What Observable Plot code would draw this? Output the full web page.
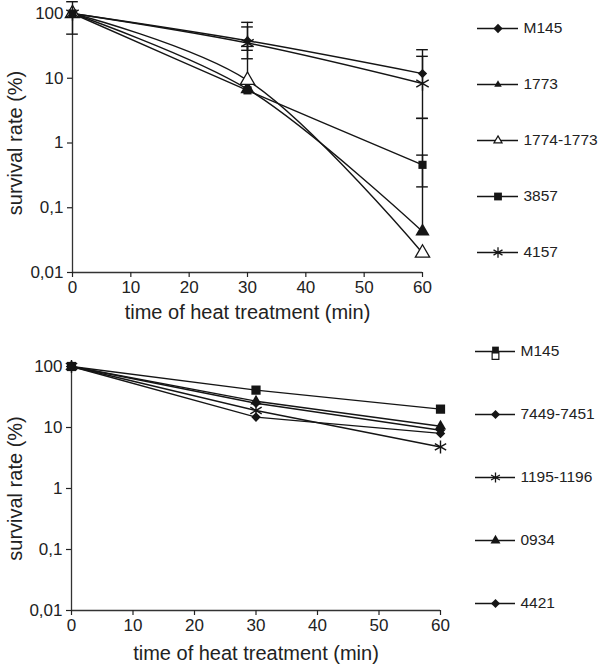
<!DOCTYPE html>
<html>
<head>
<meta charset="utf-8">
<script src="https://cdn.jsdelivr.net/npm/d3@7"></script>
<script src="https://cdn.jsdelivr.net/npm/@observablehq/plot@0.6"></script>
<style>
  body { margin: 0; background: #fff; }
  #wrap { position: relative; width: 600px; height: 665px; background: #fff; font-family: "Liberation Sans", Arial, sans-serif; }
  .pane { position: absolute; }
</style>
</head>
<body>
<div id="wrap">
  <div id="top" class="pane" style="left:0;top:0"></div>
  <div id="topLeg" class="pane" style="left:460px;top:0"></div>
  <div id="bot" class="pane" style="left:0;top:330px"></div>
  <div id="botLeg" class="pane" style="left:460px;top:330px"></div>
</div>
<script>
// ---------- data: top panel ----------
const topTimes = [0, 30, 60];
const topNames = ["M145", "1773", "1774-1773", "3857", "4157"];
const topM145 = [100, 38, 11.8];
const top1773 = [100, 6.8, 0.043];
const top1774 = [100, 9.3, 0.020];
const top3857 = [100, 6.5, 0.46];
const top4157 = [100, 35, 8.3];
const topValues = [topM145, top1773, top1774, top3857, top4157];

// error bars (top panel)
const topErrSeries = ["M145", "M145", "4157", "1774-1773", "M145", "4157", "3857", "1773"];
const topErrTime   = [0, 30, 30, 30, 60, 60, 60, 60];
const topErrLow    = [48, 27, 20, null, null, 2.4, 0.21, null];
const topErrHigh   = [152, 62, 73, 31, 27.6, 21.8, 2.4, 0.65];

// ---------- data: bottom panel ----------
const botTimes = [0, 30, 60];
const botNames = ["M145", "7449-7451", "1195-1196", "0934", "4421"];
const botM145 = [100, 41, 20];
const bot7449 = [100, 25, 9.0];
const bot1195 = [100, 19, 4.8];
const bot0934 = [100, 27, 10.5];
const bot4421 = [100, 14.8, 8.0];
const botValues = [botM145, bot7449, bot1195, bot0934, bot4421];

// ---------- axis ticks ----------
const xTicks = [0, 10, 20, 30, 40, 50, 60];
const yTicks = [0.01, 0.1, 1, 10, 100];
const xLabel = "time of heat treatment (min)";
const yLabel = "survival rate (%)";

// ---------- build tables ----------
function rowsOf(names, times, values) {
  return names.flatMap((s, i) => values[i].map((v, j) => ({series: s, t: times[j], v})));
}
const topRows = rowsOf(topNames, topTimes, topValues);
const botRows = rowsOf(botNames, botTimes, botValues);

const topErr = topErrSeries.map((s, i) => {
  const v = topValues[topNames.indexOf(s)][topTimes.indexOf(topErrTime[i])];
  return {series: s, t: topErrTime[i], v, lo: topErrLow[i], hi: topErrHigh[i]};
});
const topCaps = topErr.flatMap(d => [
  ...(d.lo != null ? [{t: d.t, y: d.lo}] : []),
  ...(d.hi != null ? [{t: d.t, y: d.hi}] : [])
]);

// ---------- styles ----------
const INK = "#151515";
const topStyle = {
  "M145":      {symbol: "diamond2", r: 4.2, fill: INK},
  "1773":      {symbol: "triangle", r: 5.3, fill: INK},
  "1774-1773": {symbol: "triangle", r: 5.3, fill: "white", stroke: INK, strokeWidth: 1.3},
  "3857":      {symbol: "square",   r: 4.6, fill: INK},
  "4157":      {symbol: "asterisk", r: 6.8, fill: "none", stroke: INK, strokeWidth: 1.4}
};
const topLegStyle = {
  "M145":      {symbol: "diamond2", r: 4.2, fill: INK},
  "1773":      {symbol: "triangle", r: 2.8, fill: INK},
  "1774-1773": {symbol: "triangle", r: 3.0, fill: "white", stroke: INK, strokeWidth: 1.2},
  "3857":      {symbol: "square",   r: 4.4, fill: INK},
  "4157":      {symbol: "asterisk", r: 4.9, fill: "none", stroke: INK, strokeWidth: 1.3}
};
const botStyle = {
  "M145":      {symbol: "square",   r: 5.2, fill: INK},
  "7449-7451": {symbol: "diamond2", r: 4.3, fill: INK},
  "1195-1196": {symbol: "asterisk", r: 6.2, fill: "none", stroke: INK, strokeWidth: 1.4},
  "0934":      {symbol: "triangle", r: 4.2, fill: INK},
  "4421":      {symbol: "diamond2", r: 4.3, fill: INK}
};
const botLegStyle = {
  "7449-7451": {symbol: "diamond2", r: 4.1, fill: INK},
  "1195-1196": {symbol: "asterisk", r: 4.8, fill: "none", stroke: INK, strokeWidth: 1.3},
  "0934":      {symbol: "triangle", r: 3.7, fill: INK},
  "4421":      {symbol: "diamond2", r: 4.1, fill: INK}
};

const fmt = d => String(d).replace(".", ",");
const baseStyle = {fontFamily: "'Liberation Sans', Arial, sans-serif", fontSize: "17px", color: "#222", background: "white", overflow: "visible"};

function dotsFor(rows, names, style) {
  return names.map(s => Plot.dot(rows.filter(d => d.series === s), {x: "t", y: "v", ...style[s]}));
}

function panel({rows, names, style, curve, width, height, mt, mb, ml, mr, extra, xLabelDy, yLabelDx}) {
  return Plot.plot({
    width, height, marginTop: mt, marginBottom: mb, marginLeft: ml, marginRight: mr,
    style: baseStyle,
    x: {domain: [0, 60]},
    y: {type: "log", domain: [0.01, 100]},
    marks: [
      Plot.ruleX([0], {stroke: "#333", strokeWidth: 1.3}),
      Plot.ruleY([0.01], {stroke: "#333", strokeWidth: 1.3}),
      Plot.axisX({ticks: xTicks, tickSize: 5, tickPadding: 3, label: null, fontSize: 17, strokeWidth: 1.2}),
      Plot.axisY({ticks: yTicks, tickFormat: fmt, tickSize: 5, tickPadding: 4, label: null, fontSize: 17, strokeWidth: 1.2}),
      Plot.line(rows, {x: "t", y: "v", z: "series", curve, stroke: INK, strokeWidth: 1.4}),
      ...extra,
      ...dotsFor(rows, names, style),
      Plot.text([yLabel], {text: d => d, frameAnchor: "left", rotate: -90, dx: yLabelDx, fontSize: 20, textAnchor: "middle", lineAnchor: "middle", fill: "#222"}),
      Plot.text([xLabel], {text: d => d, frameAnchor: "bottom", dy: xLabelDy, fontSize: 20, textAnchor: "middle", lineAnchor: "middle", fill: "#222"})
    ]
  });
}

const topErrMarks = [
  Plot.ruleX(topErr, {x: "t", y1: d => d.lo ?? d.v, y2: d => d.hi ?? d.v, stroke: INK, strokeWidth: 1.4}),
  Plot.ruleY(topCaps, {y: "y", x1: d => d.t - 1, x2: d => d.t + 1, stroke: INK, strokeWidth: 1.4})
];

document.getElementById("top").append(panel({
  rows: topRows, names: topNames, style: topStyle, curve: "catmull-rom",
  width: 460, height: 330, mt: 13, mb: 58, ml: 72, mr: 38,
  extra: topErrMarks, xLabelDy: 40, yLabelDx: -57
}));

document.getElementById("bot").append(panel({
  rows: botRows, names: botNames, style: botStyle, curve: "linear",
  width: 460, height: 335, mt: 36, mb: 55, ml: 71, mr: 20,
  extra: [], xLabelDy: 43, yLabelDx: -56
}));

// ---------- legends ----------
function legend({names, style, height, mt, mb, ml, mr, specialM145}) {
  const marks = [
    Plot.ruleY(names, {y: d => d, x1: 0, x2: 1, stroke: INK, strokeWidth: 1.3}),
  ];
  for (const s of names) {
    if (specialM145 && s === "M145") {
      marks.push(Plot.dot([s], {y: d => d, x: 0.5, symbol: "square", r: 3.8, dy: 4.5, fill: "white", stroke: INK, strokeWidth: 1.2}));
      marks.push(Plot.dot([s], {y: d => d, x: 0.5, symbol: "square", r: 3.8, dy: -1.5, fill: INK}));
    } else {
      marks.push(Plot.dot([s], {y: d => d, x: 0.5, ...style[s]}));
    }
  }
  marks.push(Plot.text(names, {y: d => d, x: 1, text: d => d, dx: 5, textAnchor: "start", fontSize: 15.5, fill: "#222"}));
  return Plot.plot({
    width: 140, height, marginTop: mt, marginBottom: mb, marginLeft: ml, marginRight: mr,
    style: {...baseStyle, overflow: "visible"},
    x: {domain: [0, 1], axis: null},
    y: {type: "point", domain: names, padding: 0, axis: null},
    marks
  });
}

document.getElementById("topLeg").append(legend({
  names: topNames, style: topLegStyle, height: 330, mt: 28, mb: 78, ml: 17, mr: 82
}));
document.getElementById("botLeg").append(legend({
  names: botNames, style: botLegStyle, height: 335, mt: 21, mb: 62, ml: 15, mr: 85, specialM145: true
}));
</script>
</body>
</html>
